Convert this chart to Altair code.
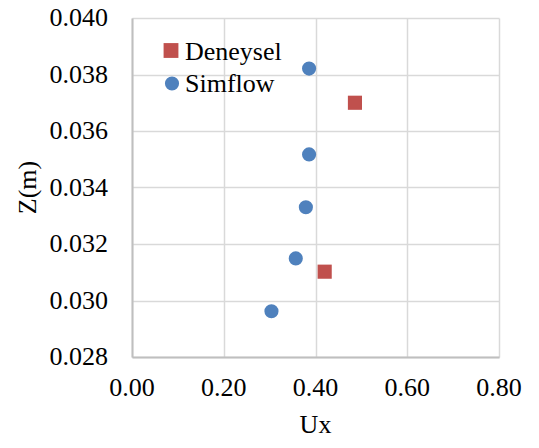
import altair as alt
import pandas as pd

series_names = ["Deneysel", "Simflow"]
series_colors = ["#c0504d", "#4f81bd"]
series_shapes = ["square", "circle"]
deneysel_ux = [0.420, 0.486]
deneysel_z = [0.03102, 0.0370]
simflow_ux = [0.304, 0.357, 0.379, 0.386, 0.386]
simflow_z = [0.02962, 0.03149, 0.0333, 0.03517, 0.03821]
x_ticks = [0.0, 0.2, 0.4, 0.6, 0.8]
y_ticks = [0.028, 0.030, 0.032, 0.034, 0.036, 0.038, 0.040]
x_title = "Ux"
y_title = "Z(m)"

rows = []
for u, z in zip(deneysel_ux, deneysel_z):
    rows.append({"Ux": u, "Z": z, "series": series_names[0]})
for u, z in zip(simflow_ux, simflow_z):
    rows.append({"Ux": u, "Z": z, "series": series_names[1]})
df = pd.DataFrame(rows)

FONT = "Liberation Serif"
W, H = 367, 339

xscale = alt.Scale(domain=[0, 0.8], nice=False, zero=False)
yscale = alt.Scale(domain=[0.028, 0.040], nice=False, zero=False)
xaxis = alt.Axis(values=x_ticks, labels=False, ticks=False, title=None,
                 domainColor="#bfbfbf", domainWidth=2, gridColor="#d9d9d9", gridWidth=1.5)
yaxis = alt.Axis(values=y_ticks, labels=False, ticks=False, title=None,
                 domainColor="#bfbfbf", domainWidth=2, gridColor="#d9d9d9", gridWidth=1.5)

color_enc = alt.Color("series:N", scale=alt.Scale(domain=series_names, range=series_colors), legend=None)
shape_enc = alt.Shape("series:N", scale=alt.Scale(domain=series_names, range=series_shapes), legend=None)

points = alt.Chart(df).mark_point(filled=True, opacity=1, size=200).encode(
    x=alt.X("Ux:Q", scale=xscale, axis=xaxis),
    y=alt.Y("Z:Q", scale=yscale, axis=yaxis),
    color=color_enc,
    shape=shape_enc,
)

xlab = alt.Chart(pd.DataFrame({"Ux": x_ticks})).mark_text(
    font=FONT, fontSize=26, baseline="middle", align="center", color="#000000"
).encode(
    x=alt.X("Ux:Q", scale=xscale, axis=xaxis),
    y=alt.value(H + 31),
    text=alt.Text("Ux:Q", format=".2f"),
)

ylab = alt.Chart(pd.DataFrame({"Z": y_ticks})).mark_text(
    font=FONT, fontSize=26, baseline="middle", align="right", color="#000000"
).encode(
    x=alt.value(-24),
    y=alt.Y("Z:Q", scale=yscale, axis=yaxis),
    text=alt.Text("Z:Q", format=".3f"),
)

xtitle = alt.Chart(pd.DataFrame({"t": [x_title]})).mark_text(
    font=FONT, fontSize=26, baseline="middle", align="center", color="#000000"
).encode(x=alt.value(W / 2), y=alt.value(H + 68), text="t:N")

ytitle = alt.Chart(pd.DataFrame({"t": [y_title]})).mark_text(
    font=FONT, fontSize=26, baseline="middle", align="center", color="#000000", angle=270
).encode(x=alt.value(-104), y=alt.value(H / 2), text="t:N")

leg_df = pd.DataFrame({"series": series_names, "row": [0, 1]})
leg_sym0 = alt.Chart(leg_df[leg_df.row == 0]).mark_point(filled=True, opacity=1, size=220).encode(
    x=alt.value(39), y=alt.value(32.5), color=color_enc, shape=shape_enc,
)
leg_sym1 = alt.Chart(leg_df[leg_df.row == 1]).mark_point(filled=True, opacity=1, size=200).encode(
    x=alt.value(40), y=alt.value(65.5), color=color_enc, shape=shape_enc,
)
leg_txt0 = alt.Chart(leg_df[leg_df.row == 0]).mark_text(
    font=FONT, fontSize=26, baseline="middle", align="left", color="#000000"
).encode(x=alt.value(53), y=alt.value(34), text="series:N")
leg_txt1 = alt.Chart(leg_df[leg_df.row == 1]).mark_text(
    font=FONT, fontSize=26, baseline="middle", align="left", color="#000000"
).encode(x=alt.value(53), y=alt.value(66), text="series:N")

chart = alt.layer(
    points, xlab, ylab, xtitle, ytitle, leg_sym0, leg_sym1, leg_txt0, leg_txt1
).properties(
    width=W, height=H,
    autosize=alt.AutoSizeParams(type="none"),
    padding={"left": 124, "top": 10, "right": 30, "bottom": 82},
).configure_view(stroke=None)

chart.save("out.html", embed_options={"renderer": "svg", "actions": False})
